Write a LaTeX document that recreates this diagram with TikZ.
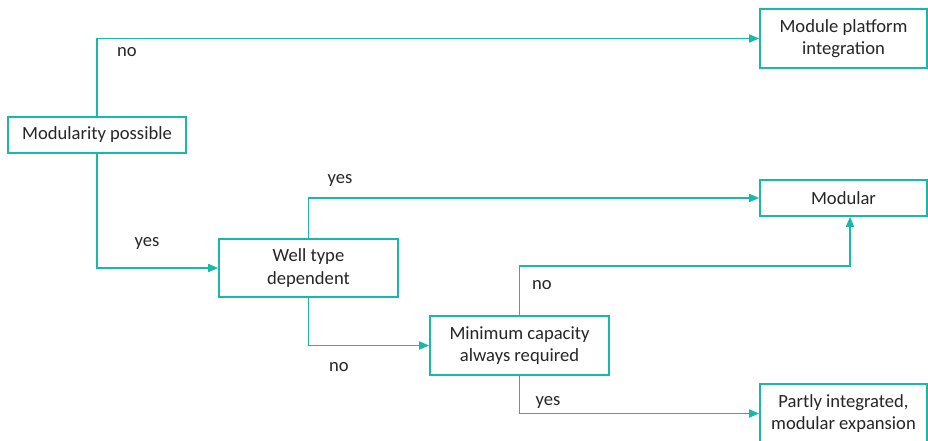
\documentclass[tikz,border=0pt]{standalone}
\usepackage{fontspec}
\setmainfont{Carlito}
\usetikzlibrary{arrows.meta}
\definecolor{teal1}{RGB}{23,185,168}
\begin{document}
\begin{tikzpicture}[x=1pt,y=-1pt,
  box/.style={draw=teal1,line width=1.6pt,fill=white,align=center,inner sep=0pt,
    font=\fontsize{18.6}{22.5}\selectfont,text=black!85},
  conn/.style={draw=teal1,line width=1.6pt},
  arr/.style={conn,-{Triangle[length=10pt,width=8pt]}},
  lbl/.style={font=\fontsize{18.6}{22.5}\selectfont,text=black!85,inner sep=0pt}]
\useasboundingbox (0,0) rectangle (928,441);
\node[box,minimum width=178pt,minimum height=36pt] (mod) at (97,135) {Modularity possible};
\node[box,minimum width=167pt,minimum height=59pt] (mpi) at (843.5,38.5) {Module platform\\integration};
\node[box,minimum width=167pt,minimum height=36pt] (modular) at (843.5,198) {Modular};
\node[box,minimum width=179pt,minimum height=58pt] (well) at (308.5,268) {Well type\\dependent};
\node[box,minimum width=179pt,minimum height=59pt] (mincap) at (519.5,345.5) {Minimum capacity\\always required};
\node[box,minimum width=167pt,minimum height=59pt] (partly) at (843.5,413.5) {Partly integrated,\\modular expansion};
\coordinate (c1) at (850,266);
\draw[arr] (mod.north) |- (mpi.west);
\draw[arr] (mod.south) |- (well.west);
\draw[arr] (well.north) |- (modular.west);
\draw[arr] (well.south) |- (mincap.west);
\draw[arr] (mincap.north) |- (c1) -- (c1 |- modular.south);
\draw[arr] (mincap.south) |- (partly.west);
\node[lbl] (l1) at (127,52) {no};
\node[lbl] (l2) at (147,243) {yes};
\node[lbl] (l3) at (340,180) {yes};
\node[lbl] (l4) at (339,367) {no};
\node[lbl] (l5) at (542,285) {no};
\node[lbl] (l6) at (548,402) {yes};
\end{tikzpicture}
\end{document}
